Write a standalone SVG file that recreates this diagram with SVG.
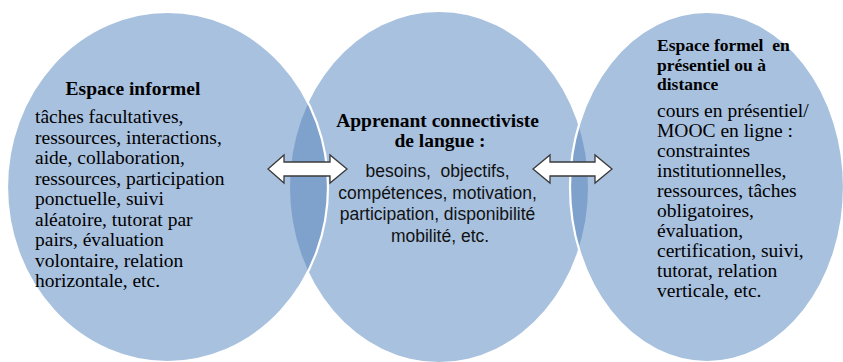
<svg xmlns="http://www.w3.org/2000/svg" width="843" height="362" viewBox="0 0 843 362">
<style>
.ell{fill:#A8C1DF}
.ov{fill:#7EA2CC}
.edge{fill:none;stroke:#FFFFFF;stroke-width:2.2}
.t{fill:#000}
.tb{font-weight:bold;fill:#000}
.s{fill:#111}
.arr{fill:#FFFFFF;stroke:#3a3a3a;stroke-width:1.3;stroke-linejoin:miter}
</style>
<defs>
<clipPath id="clipL"><ellipse cx="167.5" cy="187" rx="160.5" ry="175"/></clipPath>
<clipPath id="clipR"><ellipse cx="707" cy="187" rx="137" ry="175"/></clipPath>
</defs>
<g id="shapes">
<ellipse class="ell" cx="439" cy="187" rx="149" ry="175"/>
<ellipse class="ell" cx="167.5" cy="187" rx="160.5" ry="175"/>
<ellipse class="ell" cx="707" cy="187" rx="137" ry="175"/>
<ellipse class="ov" cx="439" cy="187" rx="149" ry="175" clip-path="url(#clipL)"/>
<ellipse class="ov" cx="439" cy="187" rx="149" ry="175" clip-path="url(#clipR)"/>
<ellipse class="edge" cx="167.5" cy="187" rx="160.5" ry="175"/>
<ellipse class="edge" cx="707" cy="187" rx="137" ry="175"/>
</g>
<g id="node-informel" font-family="'Liberation Serif', 'Times New Roman', 'DejaVu Serif', serif">
<text class="tb" x="133" y="95" font-size="19.5" text-anchor="middle">Espace informel</text>
<text class="t" font-size="19.5">
<tspan x="35" y="123">tâches facultatives,</tspan>
<tspan x="35" y="143.5">ressources, interactions,</tspan>
<tspan x="35" y="164">aide, collaboration,</tspan>
<tspan x="35" y="184.5">ressources, participation</tspan>
<tspan x="35" y="205">ponctuelle, suivi</tspan>
<tspan x="35" y="225.5">aléatoire, tutorat par</tspan>
<tspan x="35" y="246">pairs, évaluation</tspan>
<tspan x="35" y="266.5">volontaire, relation</tspan>
<tspan x="35" y="287">horizontale, etc.</tspan>
</text>
</g>
<g id="node-apprenant">
<text class="tb" font-size="19.5" text-anchor="middle" font-family="'Liberation Serif', 'Times New Roman', 'DejaVu Serif', serif">
<tspan x="440" y="127">Apprenant connectiviste</tspan>
<tspan x="440" y="147">de langue :</tspan>
</text>
<text class="s" font-size="17.5" text-anchor="middle" font-family="'Liberation Sans', Arial, sans-serif">
<tspan x="440" y="177">besoins,&#160; objectifs,</tspan>
<tspan x="440" y="198.5">compétences, motivation,</tspan>
<tspan x="440" y="220">participation, disponibilité</tspan>
<tspan x="440" y="241.5">mobilité, etc.</tspan>
</text>
</g>
<g id="node-formel" font-family="'Liberation Serif', 'Times New Roman', 'DejaVu Serif', serif">
<text class="tb" font-size="17.5">
<tspan x="657" y="51">Espace formel&#160; en</tspan>
<tspan x="657" y="70.5">présentiel ou à</tspan>
<tspan x="657" y="90">distance</tspan>
</text>
<text class="t" font-size="19.5">
<tspan x="657" y="117">cours en présentiel/</tspan>
<tspan x="657" y="137">MOOC en ligne :</tspan>
<tspan x="657" y="157">constraintes</tspan>
<tspan x="657" y="177">institutionnelles,</tspan>
<tspan x="657" y="197">ressources, tâches</tspan>
<tspan x="657" y="217">obligatoires,</tspan>
<tspan x="657" y="237">évaluation,</tspan>
<tspan x="657" y="257">certification, suivi,</tspan>
<tspan x="657" y="277">tutorat, relation</tspan>
<tspan x="657" y="297">verticale, etc.</tspan>
</text>
</g>
<g id="connectors">
<path class="arr" d="M268,169 L284,155 L284,162 L330,162 L330,155 L347,169 L330,183 L330,176 L284,176 L284,183 Z"/>
<path class="arr" d="M533,169 L550,155 L550,162 L595,162 L595,155 L612,169 L595,183 L595,176 L550,176 L550,183 Z"/>
</g>
</svg>
